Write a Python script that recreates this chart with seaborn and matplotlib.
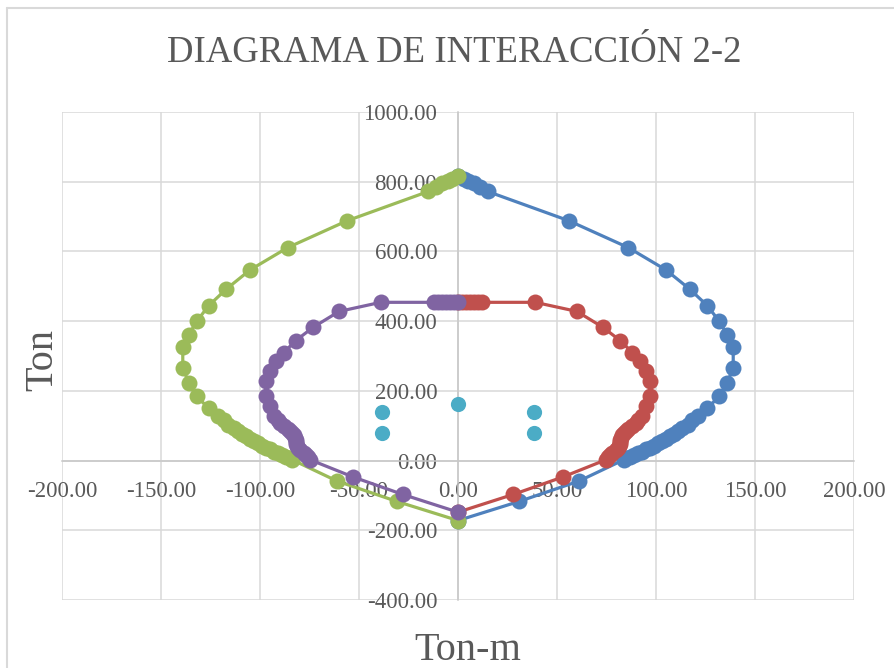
import matplotlib
matplotlib.use("Agg")
import matplotlib.pyplot as plt
import seaborn as sns
import pandas as pd
from matplotlib.ticker import MultipleLocator, FormatStrFormatter
from matplotlib.lines import Line2D

# Interaction diagram 2-2: moment (Ton-m) vs axial load (Ton)
m_pos_outer = [0, 3, 5, 8, 11, 15, 56, 86, 105, 117, 126, 132, 136, 139, 139, 136, 132,
               126, 121, 118, 116, 113, 111, 109, 107, 105, 103, 101, 99, 97, 95, 93, 91, 89, 87, 85, 84,
               61, 31, 0]
p_pos_outer = [815, 807, 802, 795, 786, 772, 688, 611, 547, 492, 444, 399, 361, 325, 267, 223, 184,
               151, 127, 115, 103, 94, 84, 77, 70, 63, 56, 50, 43, 37, 32, 26, 21, 16, 11, 6, 3,
               -59, -117, -172]

m_pos_inner = [0, 2, 4, 6, 8, 10, 12, 39, 60, 73, 82, 88, 92, 95, 97, 97, 95, 93, 91, 90, 88,
               86, 85, 84, 83, 82.5, 82, 82, 82, 81.5, 81, 80, 78, 77, 76, 75, 53, 28, 0]
p_pos_inner = [454, 454, 454, 454, 454, 454, 454, 454, 428, 383, 344, 310, 285, 256, 227, 186, 156, 127, 115, 108, 98,
               90, 85, 78, 72, 66, 60, 54, 48, 42, 36, 29, 22, 15, 9, 3, -47, -97, -148]

m_neg_outer = [0, -3, -5, -8, -11, -15, -56, -86, -105, -117, -126, -132, -136, -139, -139, -136, -132,
               -126, -121, -118, -116, -113, -111, -109, -107, -105, -103, -101, -99, -97, -95, -93, -91, -89, -87, -85, -84,
               -61, -31, 0]
p_neg_outer = [815, 807, 802, 795, 786, 772, 688, 611, 547, 492, 444, 399, 361, 325, 267, 223, 184,
               151, 127, 115, 103, 94, 84, 77, 70, 63, 56, 50, 43, 37, 32, 26, 21, 16, 11, 6, 3,
               -59, -117, -172]

m_neg_inner = [0, -2, -4, -6, -8, -10, -12, -39, -60, -73, -82, -88, -92, -95, -97, -97, -95, -93, -91, -90, -88,
               -86, -85, -84, -83, -82.5, -82, -82, -82, -81.5, -81, -80, -78, -77, -76, -75, -53, -28, 0]
p_neg_inner = [454, 454, 454, 454, 454, 454, 454, 454, 428, 383, 344, 310, 285, 256, 227, 186, 156, 127, 115, 108, 98,
               90, 85, 78, 72, 66, 60, 54, 48, 42, 36, 29, 22, 15, 9, 3, -47, -97, -148]

# load combinations (demand points)
m_demand = [-38.5, -38.5, 0, 38.5, 38.5]
p_demand = [139, 79, 163, 139, 79]

title = "DIAGRAMA DE INTERACCIÓN 2-2"
x_label = "Ton-m"
y_label = "Ton"

series_colors = ["#4F81BD", "#C0504D", "#9BBB59", "#8064A2"]
demand_color = "#4BACC6"
text_color = "#595959"
grid_color = "#D9D9D9"

sns.set_style("white")
plt.rcParams["font.family"] = ["Liberation Serif", "DejaVu Serif"]
plt.rcParams["axes.unicode_minus"] = False

fig = plt.figure(figsize=(8.95, 6.68), dpi=100)
ax = fig.add_axes([62 / 895, 1 - 600 / 668, (854 - 62) / 895, (600 - 112) / 668])

curves = [
    (m_pos_outer, p_pos_outer),
    (m_pos_inner, p_pos_inner),
    (m_neg_outer, p_neg_outer),
    (m_neg_inner, p_neg_inner),
]
for i, ((m, p), col) in enumerate(zip(curves, series_colors)):
    df = pd.DataFrame({"M": m, "P": p})
    sns.lineplot(data=df, x="M", y="P", sort=False, estimator=None, color=col,
                 linewidth=2.3, marker="o", markersize=11.5, markeredgewidth=0,
                 ax=ax, zorder=3 + i)

df_d = pd.DataFrame({"M": m_demand, "P": p_demand})
sns.scatterplot(data=df_d, x="M", y="P", color=demand_color, s=120, linewidth=0,
                ax=ax, zorder=8)

ax.set_xlim(-200, 200)
ax.set_ylim(-400, 1000)
ax.xaxis.set_major_locator(MultipleLocator(50))
ax.yaxis.set_major_locator(MultipleLocator(200))
ax.xaxis.set_major_formatter(FormatStrFormatter("%.2f"))
ax.yaxis.set_major_formatter(FormatStrFormatter("%.2f"))
ax.grid(True, color=grid_color, linewidth=1.1)
ax.set_axisbelow(True)

# axes cross at the origin
for side in ["top", "right"]:
    ax.spines[side].set_visible(False)
ax.spines["left"].set_position(("data", 0))
ax.spines["bottom"].set_position(("data", 0))
for side in ["left", "bottom"]:
    ax.spines[side].set_color("#C8C8C8")
    ax.spines[side].set_linewidth(1.1)
    ax.spines[side].set_zorder(1)

ax.tick_params(axis="both", length=0, labelsize=16.5, labelcolor=text_color)
ax.tick_params(axis="y", pad=15)
ax.tick_params(axis="x", pad=14.5)
ax.set_xlabel("")
ax.set_ylabel("")

fig.text(454 / 895, 1 - 62 / 668, title, ha="center", va="baseline",
         fontsize=26.5, color=text_color)
fig.text(468 / 895, 1 - 660 / 668, x_label, ha="center", va="baseline",
         fontsize=29, color=text_color)
fig.text(52 / 895, 1 - 360 / 668, y_label, ha="center", va="baseline",
         rotation=90, rotation_mode="anchor", fontsize=29, color=text_color)

# chart frame
fig.add_artist(Line2D([7.5 / 895, 7.5 / 895], [0, 1 - 7.5 / 668], color=grid_color,
                      linewidth=1.5, transform=fig.transFigure))
fig.add_artist(Line2D([7.5 / 895, 1], [1 - 7.5 / 668, 1 - 7.5 / 668], color=grid_color,
                      linewidth=1.5, transform=fig.transFigure))

fig.savefig("out.png", dpi=100)
